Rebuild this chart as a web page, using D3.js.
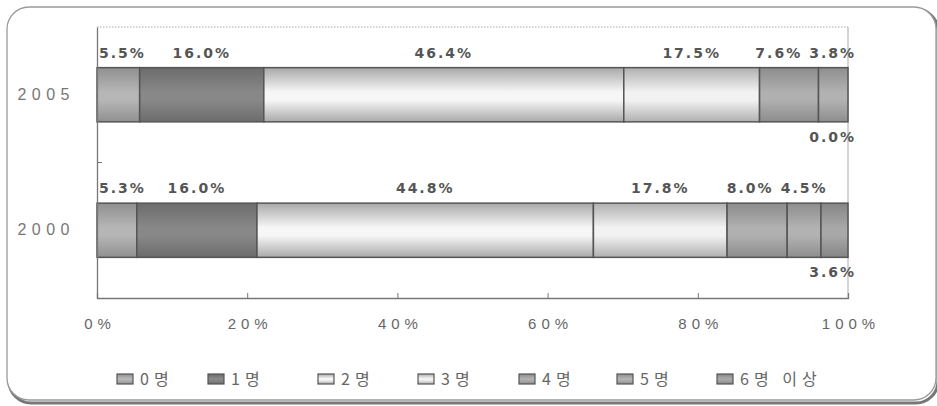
<!DOCTYPE html>
<html>
<head>
<meta charset="utf-8">
<script src="https://cdn.jsdelivr.net/npm/d3@7"></script>
<style>
  html, body { margin: 0; padding: 0; background: #fff; }
  svg { display: block; }
</style>
</head>
<body>
<div id="chart"></div>
<script>
// Household size shares by year (percent), 100% stacked
const years = ["2005", "2000"];
const series = ["0명", "1명", "2명", "3명", "4명", "5명", "6명 이상"];
const values2005 = [5.5, 16.0, 46.4, 17.5, 7.6, 3.8, 0.0];
const values2000 = [5.3, 16.0, 44.8, 17.8, 8.0, 4.5, 3.6];
const tickValues = [0, 0.2, 0.4, 0.6, 0.8, 1.0];
const tickLabels = ["0%", "20%", "40%", "60%", "80%", "100%"];

const W = 937, H = 406;
const svg = d3.select("#chart").append("svg").attr("width", W).attr("height", H);
const defs = svg.append("defs");

// vertical shading per series: [edge, middle]
const shades = [
  ["#909090", "#b6b6b6"],
  ["#6c6c6c", "#888888"],
  ["#a9a9a9", "#f6f6f6"],
  ["#b0b0b0", "#f2f2f2"],
  ["#8c8c8c", "#b0b0b0"],
  ["#8e8e8e", "#b2b2b2"],
  ["#858585", "#a8a8a8"]
];
shades.forEach((s, i) => {
  const g = defs.append("linearGradient").attr("id", "g" + i)
    .attr("x1", 0).attr("y1", 0).attr("x2", 0).attr("y2", 1);
  g.append("stop").attr("offset", "0%").attr("stop-color", s[0]);
  g.append("stop").attr("offset", "45%").attr("stop-color", s[1]);
  g.append("stop").attr("offset", "60%").attr("stop-color", s[1]);
  g.append("stop").attr("offset", "100%").attr("stop-color", s[0]);
});

// outer rounded frame with a soft shadow along the bottom
svg.append("rect").attr("x", 9).attr("y", 9).attr("width", 929).attr("height", 394)
  .attr("rx", 22).attr("fill", "none").attr("stroke", "#777").attr("stroke-width", 3);
svg.append("rect").attr("x", 7).attr("y", 7).attr("width", 929).attr("height", 393)
  .attr("rx", 22).attr("fill", "#fff").attr("stroke", "#9a9a9a").attr("stroke-width", 1.3);

const x = d3.scaleLinear().domain([0, 1]).range([97, 848]);
const y = d3.scaleBand().domain(years).range([27, 298]).paddingInner(0.6).paddingOuter(0.3);

// plot frame
const plot = svg.append("g");
plot.append("line").attr("x1", x(0)).attr("x2", x(1)).attr("y1", 27).attr("y2", 27)
  .attr("stroke", "#aaa").attr("stroke-dasharray", "1.5,1.5");
plot.append("line").attr("x1", x(1)).attr("x2", x(1)).attr("y1", 27).attr("y2", 298)
  .attr("stroke", "#aaa");

// stacked segments
const rows = years.map((yr, i) => {
  const vals = i === 0 ? values2005 : values2000;
  const total = d3.sum(vals);
  let acc = 0;
  return vals.map((v, k) => {
    const d = { year: yr, k, v, x0: acc / total, x1: (acc + v) / total };
    acc += v;
    return d;
  });
});

const last = series.length - 1;
rows.forEach(row => {
  const g = svg.append("g");
  g.selectAll("rect").data(row.filter(d => d.v > 0)).join("rect")
    .attr("x", d => x(d.x0)).attr("width", d => x(d.x1) - x(d.x0))
    .attr("y", d => y(d.year)).attr("height", y.bandwidth())
    .attr("fill", d => `url(#g${d.k})`)
    .attr("stroke", "#555").attr("stroke-width", 1.5);

  // value labels: above the bar, the last series below
  const labels = g.selectAll("text").data(row).join("text")
    .attr("y", d => d.k === last ? y(d.year) + y.bandwidth() + 20 : y(d.year) - 10)
    .attr("text-anchor", "middle")
    .style("font-family", "'DejaVu Sans', sans-serif")
    .style("font-weight", "bold").style("font-size", "14px")
    .style("letter-spacing", "2px").attr("fill", "#555")
    .text(d => d.v.toFixed(1) + "%");

  // centre on the segment, keep clear of the axis, slide left so neighbours don't collide
  labels.each(function (d) {
    d.w = this.getComputedTextLength();
    d.cx = Math.max((x(d.x0) + x(d.x1)) / 2, x(0) + 2 + d.w / 2);
  });
  const limit = x(1) + 8;
  const above = row.filter(d => d.k !== last);
  let edge = limit;
  for (let i = above.length - 1; i >= 0; i--) {
    const d = above[i];
    d.cx = Math.min(d.cx, edge - d.w / 2);
    edge = d.cx - d.w / 2 - 7;
  }
  row.filter(d => d.k === last).forEach(d => { d.cx = Math.min(d.cx, limit - d.w / 2); });
  labels.attr("x", d => d.cx);
});

// axes
const xAxis = d3.axisBottom(x).tickValues(tickValues).tickSize(-5)
  .tickFormat((d, i) => tickLabels[i]).tickPadding(20);
const gx = svg.append("g").attr("transform", "translate(0,298)").call(xAxis);
gx.select(".domain").attr("stroke", "#777").attr("stroke-width", 1.3);
gx.selectAll(".tick line").attr("stroke", "#777");
gx.selectAll(".tick text")
  .style("font-family", "'Liberation Sans', Arial, sans-serif")
  .style("font-size", "15px").style("letter-spacing", "5px").attr("fill", "#666")
  .attr("dx", "2.5px");

const gy = svg.append("g").attr("transform", `translate(${x(0)},0)`)
  .call(d3.axisLeft(y).tickSize(0).tickPadding(22));
gy.select(".domain").attr("stroke", "#777").attr("stroke-width", 1.3);
gy.selectAll(".tick text")
  .style("font-family", "'Liberation Sans', Arial, sans-serif")
  .style("font-size", "16px").style("letter-spacing", "5.5px").attr("fill", "#777");
// category separator tick
const mid = (y(years[0]) + y.bandwidth() + y(years[1])) / 2;
gy.append("line").attr("x1", 0).attr("x2", 5).attr("y1", mid).attr("y2", mid).attr("stroke", "#777");

// legend
const legendX = [117, 208, 318, 418, 519, 617, 717];
const lg = svg.append("g").selectAll("g").data(series).join("g")
  .attr("transform", (d, i) => `translate(${legendX[i]},374)`);
lg.append("rect").attr("width", 16).attr("height", 10)
  .attr("fill", (d, i) => `url(#g${i})`).attr("stroke", "#555").attr("stroke-width", 1.2);
lg.append("text").attr("x", 23).attr("y", 11)
  .style("font-family", "'Noto Sans CJK KR', sans-serif")
  .style("font-size", "16px").style("letter-spacing", "5px").attr("fill", "#666")
  .text(d => d);
</script>
</body>
</html>
